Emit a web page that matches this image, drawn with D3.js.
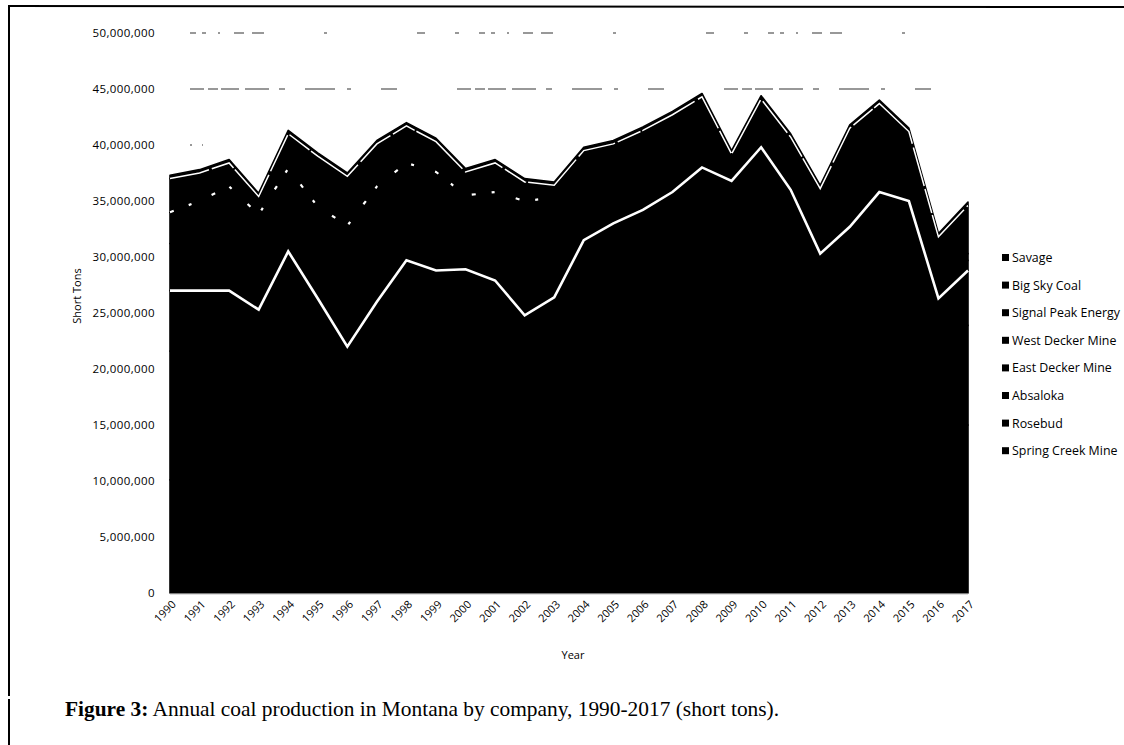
<!DOCTYPE html>
<meta charset="utf-8">
<html lang="en-us">
<head>
  <script src="https://cdn.jsdelivr.net/npm/d3@7"></script>
  <style>
    body { margin: 0; background: #fff; }
    .tick text { font-family: "Open Sans", "Liberation Sans", sans-serif; fill: #000; }
    .caption { font-family: "Liberation Serif", "DejaVu Serif", serif; }
  </style>
</head>
<body>
<svg id="chart" width="1124" height="745"></svg>
<script>
  // values in millions of short tons
  const years = d3.range(1990, 2018)
  const springCreek = [10.1, 10.5, 11.0, 10.4, 13.2, 10.8, 8.2, 10.8, 12.8, 12.7, 12.2, 11.9, 10.4, 11.0,
                       13.2, 14.0, 14.8, 16.0, 17.9, 17.8, 19.8, 17.9, 15.2, 16.6, 18.6, 18.2, 13.5, 15.0]
  const rosebud = [11.5, 11.3, 11.0, 10.2, 11.8, 10.6, 9.5, 10.4, 11.6, 11.0, 11.3, 10.8, 9.8, 10.5,
                   12.3, 12.6, 12.9, 13.0, 13.1, 12.3, 12.7, 11.5, 9.6, 10.3, 10.9, 10.7, 8.4, 8.9]
  const absaloka = [5.4, 5.2, 5.0, 4.7, 5.5, 4.9, 4.3, 4.8, 5.3, 5.1, 5.4, 5.2, 4.6, 4.9,
                    6.0, 6.4, 6.5, 6.8, 7.0, 6.7, 7.3, 6.6, 5.5, 5.8, 6.3, 6.1, 4.4, 4.9]
  const eastDecker = [4.2, 4.8, 5.6, 5.1, 4.4, 4.9, 6.5, 6.2, 5.2, 5.3, 4.0, 4.7, 6.1, 5.3,
                      4.8, 4.3, 4.3, 4.1, 3.8, 1.3, 1.1, 1.0, 1.4, 1.7, 1.4, 1.0, 0.9, 0.9]
  const westDecker = [2.8, 3.2, 3.7, 3.4, 3.0, 3.3, 4.3, 4.1, 3.5, 3.5, 2.6, 3.2, 4.1, 3.6,
                      3.2, 2.8, 2.8, 2.8, 2.5, 0.8, 0.7, 0.7, 0.9, 1.1, 1.0, 0.7, 0.6, 0.6]
  const signalPeak = [0, 0, 0, 0, 0, 0, 0, 0, 0, 0, 0, 0, 0, 0,
                      0, 0, 0, 0, 0, 0.3, 2.5, 3.0, 3.5, 6.0, 5.5, 4.5, 4.0, 4.3]
  const bigSky = [3.0, 2.5, 2.1, 1.6, 3.1, 4.5, 4.4, 3.8, 3.3, 2.7, 2.1, 2.6, 1.7, 1.1,
                  0, 0, 0, 0, 0, 0, 0, 0, 0, 0, 0, 0, 0, 0]
  const savage = [0.3, 0.3, 0.3, 0.3, 0.3, 0.3, 0.3, 0.3, 0.3, 0.3, 0.3, 0.3, 0.3, 0.3,
                  0.3, 0.3, 0.3, 0.3, 0.3, 0.3, 0.3, 0.3, 0.3, 0.3, 0.3, 0.3, 0.3, 0.3]

  // bottom of the stack first
  const series = [
    ['Spring Creek Mine', springCreek],
    ['Rosebud', rosebud],
    ['Absaloka', absaloka],
    ['East Decker Mine', eastDecker],
    ['West Decker Mine', westDecker],
    ['Signal Peak Energy', signalPeak],
    ['Big Sky Coal', bigSky],
    ['Savage', savage]
  ]
  const keys = series.map(s => s[0])
  const legendKeys = keys.slice().reverse()

  const table = years.map(function(yr, i) {
    const row = {year: yr}
    series.forEach(s => row[s[0]] = s[1][i] * 1e6)
    return row
  })

  const svg = d3.select('#chart')
  const x = d3.scaleLinear().domain([1990, 2017]).range([170, 968])
  const y = d3.scaleLinear().domain([0, 50e6]).range([593, 33])

  // page frame from the scan
  svg.append('line').attr('x1', 8).attr('x2', 1124).attr('y1', 6).attr('y2', 7)
    .attr('stroke', '#000').attr('stroke-width', 2)
  svg.append('line').attr('x1', 9).attr('x2', 9).attr('y1', 6).attr('y2', 745)
    .attr('stroke', '#000').attr('stroke-width', 2).attr('stroke-dasharray', '690,3,200')

  // broken gridlines left by the scan
  const gridDash = {40e6: '2,10,1,90,6,120,3,200,30,400', 45e6: '14,4,10,3,18,6,24,10,6,20,30,12,4,30,16,60',
                    50e6: '6,6,4,12,2,14,10,8,12,60,3,90,8,30,4,20'}
  svg.append('g').selectAll('line').data([40e6, 45e6, 50e6]).enter()
    .append('line').attr('x1', 190).attr('x2', 950)
    .attr('y1', d => y(d)).attr('y2', d => y(d))
    .attr('stroke', '#333').attr('stroke-width', 1.2)
    .attr('stroke-dasharray', d => gridDash[d])

  const stacked = d3.stack().keys(keys)(table)

  const area = d3.area()
    .x(d => x(d.data.year))
    .y0(d => y(d[0]))
    .y1(d => y(d[1]))

  svg.append('g').selectAll('path').data(stacked).enter()
    .append('path').attr('d', area)
    .attr('fill', '#000').attr('stroke', '#000').attr('stroke-width', 1.6)
    .attr('stroke-linejoin', 'round')

  const topLine = d3.line().x(d => x(d.data.year)).y(d => y(d[1]))
  const byKey = {}
  stacked.forEach(s => byKey[s.key] = s)

  // boundaries that survived the scan as white lines
  svg.append('path').datum(byKey['Absaloka']).attr('d', topLine)
    .attr('fill', 'none').attr('stroke', '#fff').attr('stroke-width', 2.6)
  svg.append('path').datum(byKey['Big Sky Coal']).attr('d', topLine)
    .attr('fill', 'none').attr('stroke', '#fff').attr('stroke-width', 1.5)
    .attr('stroke-dasharray', '40,3,25,2,60,4')
  svg.append('path').datum(byKey['West Decker Mine'])
    .attr('d', topLine.defined(d => d.data['Big Sky Coal'] > 0))
    .attr('fill', 'none').attr('stroke', '#fff').attr('stroke-width', 2.2)
    .attr('stroke-dasharray', '4,16,3,22')

  svg.append('line').attr('x1', 170).attr('x2', 968).attr('y1', 594).attr('y2', 594)
    .attr('stroke', '#bbb').attr('stroke-width', 1)

  // y axis
  const yAxis = svg.append('g').attr('transform', 'translate(170,0)')
    .call(d3.axisLeft(y).ticks(10).tickFormat(d3.format(',')).tickSize(0).tickPadding(15))
  yAxis.select('.domain').remove()
  yAxis.selectAll('text').attr('font-size', '11.5px').attr('letter-spacing', '0.4px')

  // x axis
  const xAxis = svg.append('g').attr('transform', 'translate(0,593)')
    .call(d3.axisBottom(x).tickValues(years).tickFormat(d3.format('d')).tickSize(0))
  xAxis.select('.domain').remove()
  xAxis.selectAll('text')
    .attr('font-size', '11px')
    .attr('text-anchor', 'end')
    .attr('dy', 0)
    .attr('transform', 'translate(4,10) rotate(-45)')

  svg.append('text').attr('transform', 'translate(81,296) rotate(-90)')
    .attr('text-anchor', 'middle').attr('font-family', 'Open Sans, sans-serif')
    .attr('font-size', '11px').text('Short Tons')

  svg.append('text').attr('x', 573).attr('y', 659)
    .attr('text-anchor', 'middle').attr('font-family', 'Open Sans, sans-serif')
    .attr('font-size', '11px').text('Year')

  // legend
  const legend = svg.append('g').selectAll('g').data(legendKeys).enter()
    .append('g').attr('transform', (d, i) => `translate(1002,${258 + i * 27.6})`)
  legend.append('rect').attr('x', 0).attr('y', -4).attr('width', 7).attr('height', 7).attr('fill', '#000')
  legend.append('text').attr('x', 10).attr('y', 4)
    .attr('font-family', 'Open Sans, sans-serif').attr('font-size', '12.4px')
    .text(d => d)

  const cap = svg.append('text').attr('class', 'caption').attr('x', 65).attr('y', 716)
    .attr('font-size', '21.4px')
  cap.append('tspan').attr('font-weight', 'bold').text('Figure 3:')
  cap.append('tspan').text(' Annual coal production in Montana by company, 1990-2017 (short tons).')
</script>
</body>
</html>
